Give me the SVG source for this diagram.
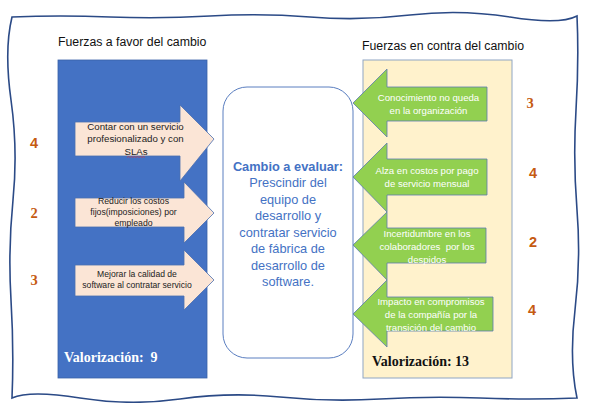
<svg xmlns="http://www.w3.org/2000/svg" width="589" height="403" viewBox="0 0 589 403">
<style>
text{white-space:pre;}
.title{font-family:"Liberation Sans",Arial,sans-serif;fill:#111;}
.atxt{font-family:"Liberation Sans",Arial,sans-serif;fill:#222;text-anchor:middle;}
.gtxt{font-family:"Liberation Sans",Arial,sans-serif;fill:#fff;text-anchor:middle;font-size:9.6px;}
.ctxt{font-family:"Liberation Sans",Arial,sans-serif;fill:#4472C4;text-anchor:middle;font-size:12.8px;}
.num{fill:#C55A11;font-weight:bold;font-size:14.5px;text-anchor:middle;}
.serif{font-family:"Liberation Serif","Times New Roman",serif;}
.sans{font-family:"Liberation Sans",Arial,sans-serif;}
.peach{fill:#FBE5D6;stroke:#4A6FB0;stroke-width:0.8;}
.green{fill:#92D050;stroke:#5B7BB0;stroke-width:0.8;}
.val{font-family:"Liberation Serif","Times New Roman",serif;font-weight:bold;font-size:14px;}
</style>
<rect width="589" height="403" fill="#fff"/>
<g id="border">
<path d="M12,17 Q60,15 110,17 T210,16 T310,17 T410,15 T510,17 T577,16 Q579,60 576,110 T577,210 T575,310 T577,398 Q530,400 480,398 T380,399 T280,397 T180,399 T80,398 T12,398 Q14,350 11,300 T13,200 T11,100 T12,17 Z" fill="none" stroke="#2B4A86" stroke-width="1.6"/>
</g>
<g id="titles">
<text class="title" x="58" y="46" font-size="12.3">Fuerzas a favor del cambio</text>
<text class="title" x="362" y="50" font-size="12.3">Fuerzas en contra del cambio</text>
</g>
<g id="favor-panel">
<rect x="58" y="60" width="149" height="318" fill="#4472C4" stroke="#3B62A8" stroke-width="0.8"/>
<text class="val" x="64" y="362" fill="#fff">Valorización:  9</text>
</g>
<g id="contra-panel">
<rect x="363" y="60" width="149" height="318" fill="#FFF2CC" stroke="#8FA6C4" stroke-width="1"/>
<text class="val" x="372" y="366" fill="#111">Valorización: 13</text>
</g>
<g id="cambio">
<rect x="223" y="87" width="130" height="271" rx="24" ry="24" fill="#fff" stroke="#5A7EC0" stroke-width="1"/>
<text class="ctxt" x="288" y="171" font-weight="bold" font-size="12.5">Cambio a evaluar:</text>
<text class="ctxt" x="288" y="187">Prescindir del</text>
<text class="ctxt" x="288" y="203.5">equipo de</text>
<text class="ctxt" x="288" y="220">desarrollo y</text>
<text class="ctxt" x="288" y="236.5">contratar servicio</text>
<text class="ctxt" x="288" y="253">de fábrica de</text>
<text class="ctxt" x="288" y="269.5">desarrollo de</text>
<text class="ctxt" x="288" y="286">software.</text>
</g>
<g id="favor1">
<path class="peach" d="M75,122 L180,122 L180,105 L214,139 L180,181 L180,156 L75,156 Z"/>
<text class="atxt" x="135.5" y="130" font-size="9.7">Contar con un servicio</text>
<text class="atxt" x="135.5" y="142" font-size="9.7">profesionalizado y con</text>
<text class="atxt" x="136" y="155" font-size="9.7">SLAs</text>
<path d="M127,157.5 l1.5,-1 l1.5,1 l1.5,-1 l1.5,1 l1.5,-1 l1.5,1 l1.5,-1 l1.5,1 l1.5,-1 l1.5,1 l1.5,-1 l1.5,1" fill="none" stroke="#E03030" stroke-width="0.6"/>
</g>
<g id="favor2">
<path class="peach" d="M75,198 L184,198 L184,182 L214,213 L184,243 L184,227 L75,227 Z"/>
<text class="atxt" x="133.5" y="204" font-size="8.7">Reducir los costos</text>
<text class="atxt" x="133.5" y="215" font-size="8.7">fijos(imposiciones) por</text>
<text class="atxt" x="133.5" y="226" font-size="8.7">empleado</text>
</g>
<g id="favor3">
<path class="peach" d="M75,265 L184,265 L184,250 L214,280 L184,310 L184,296 L75,296 Z"/>
<text class="atxt" x="137" y="277" font-size="8.6">Mejorar la calidad de</text>
<text class="atxt" x="137" y="288" font-size="8.6">software al contratar servicio</text>
</g>
<g id="contra1">
<path class="green" d="M353,103 L387,69 L387,87 L487,87 L487,121 L387,121 L387,137 Z"/>
<text class="gtxt" x="428.5" y="100.5">Conocimiento no queda</text>
<text class="gtxt" x="428.5" y="114">en la organización</text>
</g>
<g id="contra2">
<path class="green" d="M353,177 L387,143 L387,159 L487,159 L487,195 L387,195 L387,212 Z"/>
<text class="gtxt" x="427" y="173.5">Alza en costos por pago</text>
<text class="gtxt" x="427" y="187">de servicio mensual</text>
</g>
<g id="contra3">
<path class="green" d="M353,245 L387,212 L387,228 L486,228 L486,263 L387,263 L387,280 Z"/>
<text class="gtxt" x="427" y="236.5">Incertidumbre en los</text>
<text class="gtxt" x="427" y="249.5">colaboradores  por los</text>
<text class="gtxt" x="427" y="262.5">despidos</text>
</g>
<g id="contra4">
<path class="green" d="M353,314 L387,280 L387,297 L493,297 L493,331 L387,331 L387,347 Z"/>
<text class="gtxt" x="431" y="304.5">Impacto en compromisos</text>
<text class="gtxt" x="431" y="317.5">de la compañía por la</text>
<text class="gtxt" x="431" y="330.5">transición del cambio</text>
</g>
<g id="scores">
<text class="num sans" x="34" y="148">4</text>
<text class="num serif" x="34" y="218">2</text>
<text class="num serif" x="34" y="285">3</text>
<text class="num serif" x="530" y="108">3</text>
<text class="num sans" x="533" y="178">4</text>
<text class="num sans" x="533" y="247">2</text>
<text class="num sans" x="532" y="315">4</text>
</g>
</svg>
